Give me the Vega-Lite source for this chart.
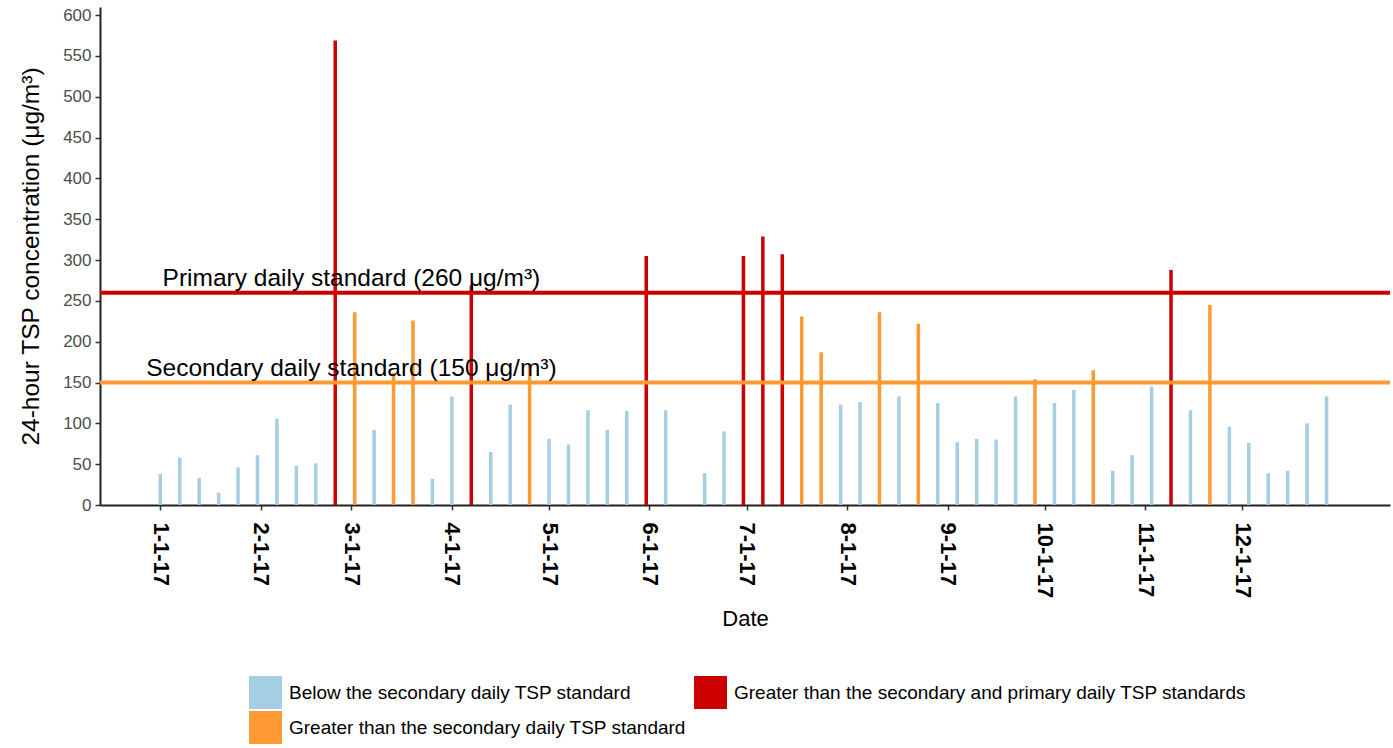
{
  "$schema": "https://vega.github.io/schema/vega-lite/v6.json",
  "width": 1290,
  "height": 498,
  "autosize": "none",
  "padding": {"left": 100, "top": 7, "right": 3, "bottom": 243},
  "background": "white",
  "config": {
    "view": {"stroke": null},
    "font": "Liberation Sans",
    "axis": {"grid": false}
  },
  "datasets": {
    "tsp": [
      {"date": "2017-01-01", "tsp": 38, "category": "Below the secondary daily TSP standard"},
      {"date": "2017-01-07", "tsp": 58, "category": "Below the secondary daily TSP standard"},
      {"date": "2017-01-13", "tsp": 33, "category": "Below the secondary daily TSP standard"},
      {"date": "2017-01-19", "tsp": 15, "category": "Below the secondary daily TSP standard"},
      {"date": "2017-01-25", "tsp": 46, "category": "Below the secondary daily TSP standard"},
      {"date": "2017-01-31", "tsp": 61, "category": "Below the secondary daily TSP standard"},
      {"date": "2017-02-06", "tsp": 106, "category": "Below the secondary daily TSP standard"},
      {"date": "2017-02-12", "tsp": 48, "category": "Below the secondary daily TSP standard"},
      {"date": "2017-02-18", "tsp": 51, "category": "Below the secondary daily TSP standard"},
      {"date": "2017-02-24", "tsp": 569, "category": "Greater than the secondary and primary daily TSP standards"},
      {"date": "2017-03-02", "tsp": 236, "category": "Greater than the secondary daily TSP standard"},
      {"date": "2017-03-08", "tsp": 92, "category": "Below the secondary daily TSP standard"},
      {"date": "2017-03-14", "tsp": 162, "category": "Greater than the secondary daily TSP standard"},
      {"date": "2017-03-20", "tsp": 226, "category": "Greater than the secondary daily TSP standard"},
      {"date": "2017-03-26", "tsp": 32, "category": "Below the secondary daily TSP standard"},
      {"date": "2017-04-01", "tsp": 133, "category": "Below the secondary daily TSP standard"},
      {"date": "2017-04-07", "tsp": 269, "category": "Greater than the secondary and primary daily TSP standards"},
      {"date": "2017-04-13", "tsp": 65, "category": "Below the secondary daily TSP standard"},
      {"date": "2017-04-19", "tsp": 123, "category": "Below the secondary daily TSP standard"},
      {"date": "2017-04-25", "tsp": 172, "category": "Greater than the secondary daily TSP standard"},
      {"date": "2017-05-01", "tsp": 81, "category": "Below the secondary daily TSP standard"},
      {"date": "2017-05-07", "tsp": 74, "category": "Below the secondary daily TSP standard"},
      {"date": "2017-05-13", "tsp": 116, "category": "Below the secondary daily TSP standard"},
      {"date": "2017-05-19", "tsp": 92, "category": "Below the secondary daily TSP standard"},
      {"date": "2017-05-25", "tsp": 115, "category": "Below the secondary daily TSP standard"},
      {"date": "2017-05-31", "tsp": 305, "category": "Greater than the secondary and primary daily TSP standards"},
      {"date": "2017-06-06", "tsp": 116, "category": "Below the secondary daily TSP standard"},
      {"date": "2017-06-18", "tsp": 39, "category": "Below the secondary daily TSP standard"},
      {"date": "2017-06-24", "tsp": 90, "category": "Below the secondary daily TSP standard"},
      {"date": "2017-06-30", "tsp": 305, "category": "Greater than the secondary and primary daily TSP standards"},
      {"date": "2017-07-06", "tsp": 329, "category": "Greater than the secondary and primary daily TSP standards"},
      {"date": "2017-07-12", "tsp": 307, "category": "Greater than the secondary and primary daily TSP standards"},
      {"date": "2017-07-18", "tsp": 231, "category": "Greater than the secondary daily TSP standard"},
      {"date": "2017-07-24", "tsp": 187, "category": "Greater than the secondary daily TSP standard"},
      {"date": "2017-07-30", "tsp": 123, "category": "Below the secondary daily TSP standard"},
      {"date": "2017-08-05", "tsp": 126, "category": "Below the secondary daily TSP standard"},
      {"date": "2017-08-11", "tsp": 236, "category": "Greater than the secondary daily TSP standard"},
      {"date": "2017-08-17", "tsp": 133, "category": "Below the secondary daily TSP standard"},
      {"date": "2017-08-23", "tsp": 222, "category": "Greater than the secondary daily TSP standard"},
      {"date": "2017-08-29", "tsp": 125, "category": "Below the secondary daily TSP standard"},
      {"date": "2017-09-04", "tsp": 77, "category": "Below the secondary daily TSP standard"},
      {"date": "2017-09-10", "tsp": 81, "category": "Below the secondary daily TSP standard"},
      {"date": "2017-09-16", "tsp": 80, "category": "Below the secondary daily TSP standard"},
      {"date": "2017-09-22", "tsp": 133, "category": "Below the secondary daily TSP standard"},
      {"date": "2017-09-28", "tsp": 154, "category": "Greater than the secondary daily TSP standard"},
      {"date": "2017-10-04", "tsp": 125, "category": "Below the secondary daily TSP standard"},
      {"date": "2017-10-10", "tsp": 141, "category": "Below the secondary daily TSP standard"},
      {"date": "2017-10-16", "tsp": 165, "category": "Greater than the secondary daily TSP standard"},
      {"date": "2017-10-22", "tsp": 42, "category": "Below the secondary daily TSP standard"},
      {"date": "2017-10-28", "tsp": 61, "category": "Below the secondary daily TSP standard"},
      {"date": "2017-11-03", "tsp": 145, "category": "Below the secondary daily TSP standard"},
      {"date": "2017-11-09", "tsp": 288, "category": "Greater than the secondary and primary daily TSP standards"},
      {"date": "2017-11-15", "tsp": 116, "category": "Below the secondary daily TSP standard"},
      {"date": "2017-11-21", "tsp": 245, "category": "Greater than the secondary daily TSP standard"},
      {"date": "2017-11-27", "tsp": 96, "category": "Below the secondary daily TSP standard"},
      {"date": "2017-12-03", "tsp": 76, "category": "Below the secondary daily TSP standard"},
      {"date": "2017-12-09", "tsp": 39, "category": "Below the secondary daily TSP standard"},
      {"date": "2017-12-15", "tsp": 42, "category": "Below the secondary daily TSP standard"},
      {"date": "2017-12-21", "tsp": 100, "category": "Below the secondary daily TSP standard"},
      {"date": "2017-12-27", "tsp": 133, "category": "Below the secondary daily TSP standard"}
    ],
    "standards": [
      {"date": "2017-03-01", "value": 260, "label": "Primary daily standard (260 μg/m³)", "kind": "primary"},
      {"date": "2017-03-01", "value": 150, "label": "Secondary daily standard (150 μg/m³)", "kind": "secondary"}
    ]
  },
  "layer": [
    {
      "data": {"name": "tsp"},
      "mark": {"type": "bar", "width": 3.5},
      "encoding": {
        "x": {
          "field": "date",
          "type": "temporal",
          "scale": {
            "type": "utc",
            "padding": 0,
            "domain": [
              {"year": 2016, "month": 12, "date": 13, "hours": 9, "minutes": 22, "utc": true},
              {"year": 2018, "month": 1, "date": 15, "hours": 14, "minutes": 10, "utc": true}
            ]
          },
          "axis": {
            "title": "Date",
            "titleFontSize": 22,
            "titleFontWeight": "normal",
            "titleColor": "black",
            "titlePadding": 11,
            "format": "%-m-%-d-%y",
            "values": [
              {"year": 2017, "month": 1, "date": 1, "utc": true},
              {"year": 2017, "month": 2, "date": 1, "utc": true},
              {"year": 2017, "month": 3, "date": 1, "utc": true},
              {"year": 2017, "month": 4, "date": 1, "utc": true},
              {"year": 2017, "month": 5, "date": 1, "utc": true},
              {"year": 2017, "month": 6, "date": 1, "utc": true},
              {"year": 2017, "month": 7, "date": 1, "utc": true},
              {"year": 2017, "month": 8, "date": 1, "utc": true},
              {"year": 2017, "month": 9, "date": 1, "utc": true},
              {"year": 2017, "month": 10, "date": 1, "utc": true},
              {"year": 2017, "month": 11, "date": 1, "utc": true},
              {"year": 2017, "month": 12, "date": 1, "utc": true}
            ],
            "labelAngle": 90,
            "labelFontSize": 22,
            "labelFontWeight": "bold",
            "labelColor": "black",
            "labelPadding": 12,
            "labelOverlap": false,
            "labelFlush": false,
            "tickColor": "#333333",
            "tickSize": 5,
            "tickWidth": 1.5,
            "domainColor": "#222222",
            "domainWidth": 2
          }
        },
        "y": {
          "field": "tsp",
          "type": "quantitative",
          "scale": {"domain": [0, 610], "nice": false, "zero": true},
          "axis": {
            "title": "24-hour TSP concentration (μg/m³)",
            "titleFontSize": 24.5,
            "titleFontWeight": "normal",
            "titleColor": "black",
            "titlePadding": 19,
            "values": [0, 50, 100, 150, 200, 250, 300, 350, 400, 450, 500, 550, 600],
            "labelFontSize": 17,
            "labelColor": "#4d4d4d",
            "labelPadding": 4,
            "tickColor": "#333333",
            "tickSize": 5,
            "tickWidth": 1.5,
            "domainColor": "#222222",
            "domainWidth": 2
          }
        },
        "color": {
          "field": "category",
          "type": "nominal",
          "scale": {
            "domain": [
              "Below the secondary daily TSP standard",
              "Greater than the secondary and primary daily TSP standards",
              "Greater than the secondary daily TSP standard"
            ],
            "range": ["#a6cee3", "#cc0000", "#ff9933"]
          },
          "legend": {
            "title": null,
            "orient": "none",
            "legendX": 149,
            "legendY": 669,
            "direction": "horizontal",
            "columns": 2,
            "symbolType": "square",
            "symbolSize": 1089,
            "symbolStrokeWidth": 0,
            "labelFontSize": 19,
            "labelColor": "black",
            "labelLimit": 600,
            "labelOffset": 7,
            "columnPadding": 7,
            "rowPadding": 2
          }
        }
      }
    },
    {
      "data": {"name": "standards"},
      "transform": [{"filter": "datum.kind === 'primary'"}],
      "mark": {"type": "rule", "strokeWidth": 4, "color": "#cc0000"},
      "encoding": {
        "y": {"field": "value", "type": "quantitative"}
      }
    },
    {
      "data": {"name": "standards"},
      "transform": [{"filter": "datum.kind === 'secondary'"}],
      "mark": {"type": "rule", "strokeWidth": 4, "color": "#ff9933"},
      "encoding": {
        "y": {"field": "value", "type": "quantitative"}
      }
    },
    {
      "data": {"name": "standards"},
      "mark": {"type": "text", "fontSize": 24.5, "align": "center", "baseline": "alphabetic", "dy": -6.5, "color": "black"},
      "encoding": {
        "x": {"field": "date", "type": "temporal"},
        "y": {"field": "value", "type": "quantitative"},
        "text": {"field": "label"}
      }
    }
  ]
}
